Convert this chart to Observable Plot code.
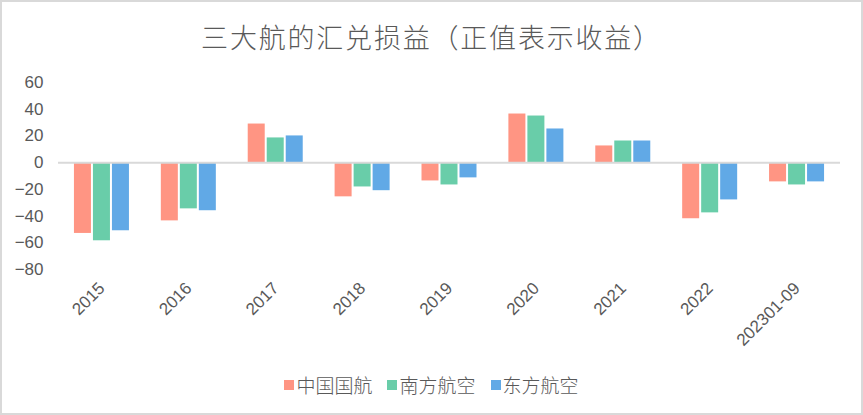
<!DOCTYPE html>
<html>
<head>
<meta charset="utf-8">
<script src="https://cdn.jsdelivr.net/npm/d3@7"></script>
<script src="https://cdn.jsdelivr.net/npm/@observablehq/plot@0.6"></script>
<style>
  html, body { margin: 0; padding: 0; background: #fff; }
  #wrap { position: relative; width: 863px; height: 415px; overflow: hidden; background: #fff;
    font-family: "Liberation Sans", "Noto Sans CJK SC", sans-serif; color: #595959; }
  #frame { position: absolute; left: 0; top: 0; width: 863px; height: 415px; box-sizing: border-box;
    border: 2px solid #d9d9d9; pointer-events: none; }
  #title { height: 62px; box-sizing: border-box; padding-top: 21px; text-align: center;
    font-family: "Noto Sans CJK SC", sans-serif; font-weight: 300; font-size: 27px; line-height: 32px; letter-spacing: 1.8px; color: #595959; }
  #legend { position: absolute; left: 0; top: 373px; width: 863px; height: 24px; display: flex; justify-content: center;
    align-items: center; gap: 15px; font-family: "Noto Sans CJK SC", sans-serif; font-weight: 300; font-size: 19px; line-height: 24px; color: #595959; }
  #legend .item { display: flex; align-items: center; gap: 2px; }
  #legend .sw { width: 10px; height: 10px; display: inline-block; }
  svg { display: block; }
</style>
</head>
<body>
<div id="wrap">
  <div id="title">三大航的汇兑损益（正值表示收益）</div>
  <div id="chart"></div>
  <div id="legend"></div>
  <div id="frame"></div>
</div>
<script>
const categories = ["2015", "2016", "2017", "2018", "2019", "2020", "2021", "2022", "202301-09"];
const seriesNames = ["中国国航", "南方航空", "东方航空"];
const airChina = [-53, -43.6, 28.9, -25.6, -13.7, 36.4, 12.5, -42, -14.4];
const chinaSouthern = [-58.5, -34.6, 18.5, -18.2, -16.7, 34.9, 16.2, -37.6, -16.7];
const chinaEastern = [-51, -36, 20, -21, -11.4, 25.2, 16.2, -27.9, -14.4];
const yTicks = [-80, -60, -40, -20, 0, 20, 40, 60];
const colors = ["#FF9583", "#69CDA9", "#61A9E6"];

const seriesValues = [airChina, chinaSouthern, chinaEastern];
const rows = seriesValues.map((vals, s) =>
  categories.map((c, i) => ({ category: c, series: seriesNames[s], value: vals[i] }))
);

const width = 863, marginLeft = 58, marginRight = 23;
const band = (width - marginLeft - marginRight) / categories.length;
const barW = 17, gap = 2;
const groupW = barW * 3 + gap * 2;
const offset0 = (band - groupW) / 2;

const barMarks = rows.map((data, s) => {
  const left = offset0 + s * (barW + gap);
  return Plot.barY(data, {
    x: "category", y: "value", fill: colors[s],
    insetLeft: left, insetRight: band - left - barW
  });
});

const chart = Plot.plot({
  width, height: 300,
  marginLeft, marginRight, marginTop: 20, marginBottom: 93,
  style: { fontFamily: '"Liberation Sans", "Noto Sans CJK SC", sans-serif', color: "#595959", background: "transparent" },
  x: { domain: categories, padding: 0, round: false, label: null, tickSize: 0, tickPadding: 17, tickRotate: -45 },
  y: { domain: [-80, 60], ticks: yTicks, label: null, tickSize: 0, tickPadding: 15 },
  marks: [
    ...barMarks,
    Plot.ruleY([0], { stroke: "#d9d9d9", strokeWidth: 2 }),
    Plot.axisY({ ticks: yTicks, tickSize: 0, tickPadding: 15, fontSize: 17, label: null, fill: "#595959" }),
    Plot.axisX({ tickSize: 0, tickPadding: 16, tickRotate: -45, fontSize: 17, label: null, fill: "#595959" })
  ]
});
document.getElementById("chart").appendChild(chart);

const legend = document.getElementById("legend");
seriesNames.forEach((n, i) => {
  const it = document.createElement("span");
  it.className = "item";
  const sw = document.createElement("span");
  sw.className = "sw"; sw.style.background = colors[i];
  const tx = document.createElement("span");
  tx.textContent = n;
  it.appendChild(sw); it.appendChild(tx);
  legend.appendChild(it);
});
</script>
</body>
</html>
